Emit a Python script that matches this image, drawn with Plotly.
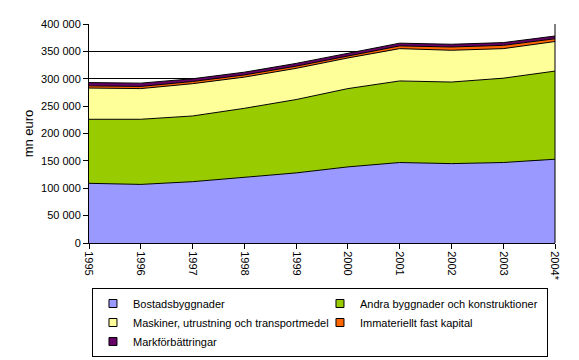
import plotly.graph_objects as go

years = [1995, 1996, 1997, 1998, 1999, 2000, 2001, 2002, 2003, 2004]
year_labels = ["1995", "1996", "1997", "1998", "1999", "2000", "2001", "2002", "2003", "2004*"]

bostads = [109000, 107000, 112000, 120000, 128000, 139000, 147000, 145000, 147000, 153000]
andra = [117000, 119000, 120000, 126000, 134000, 143000, 149000, 149000, 154000, 161000]
maskiner = [57000, 56000, 59000, 57000, 57000, 56000, 59000, 58000, 54000, 54000]
immateriellt = [4000, 4000, 4000, 4000, 4000, 4000, 5000, 6000, 6000, 5000]
mark = [6000, 6000, 5000, 5000, 5000, 5000, 5000, 5000, 5000, 5000]

series = [
    ("Bostadsbyggnader", bostads, "#9999FF"),
    ("Andra byggnader och konstruktioner", andra, "#99CC00"),
    ("Maskiner, utrustning och transportmedel", maskiner, "#FFFF99"),
    ("Immateriellt fast kapital", immateriellt, "#FF6600"),
    ("Markförbättringar", mark, "#660066"),
]

fig = go.Figure()
for name, vals, col in series:
    fig.add_trace(go.Scatter(
        x=years, y=vals, name=name, mode="lines", stackgroup="one",
        line=dict(color="black", width=1), fillcolor=col, showlegend=False,
    ))
# legend entries with square swatches
for name, vals, col in series:
    fig.add_trace(go.Scatter(
        x=[None], y=[None], name=name, mode="markers",
        marker=dict(symbol="square", size=8, color=col, line=dict(color="black", width=1)),
    ))

font = "Liberation Sans, Arial, sans-serif"
fig.update_layout(
    width=579, height=360,
    margin=dict(l=89, r=24, t=24, b=117, autoexpand=False),
    paper_bgcolor="white", plot_bgcolor="white",
    font=dict(family=font, size=11, color="black"),
    showlegend=True,
    xaxis=dict(
        range=[1995, 2004], tickvals=years, ticktext=year_labels, tickangle=90,
        showgrid=False, showline=True, linecolor="black", linewidth=1,
        ticks="outside", ticklen=5, tickcolor="black", mirror=False, zeroline=False,
        tickfont=dict(family=font, size=11), automargin=False,
    ),
    yaxis=dict(
        range=[0, 400000], tickvals=list(range(0, 400001, 50000)),
        ticktext=["0"] + [f"{v//1000} 000" for v in range(50000, 400001, 50000)],
        showgrid=True, gridcolor="black", gridwidth=1,
        showline=True, linecolor="black", linewidth=1,
        ticks="outside", ticklen=5, tickcolor="black", zeroline=False,
        title=dict(text="mn euro", font=dict(family=font, size=13), standoff=4),
        tickfont=dict(family=font, size=11), automargin=False,
    ),
    legend=dict(
        orientation="h",
        x=0.0064, y=-0.2055, xanchor="left", yanchor="top",
        bordercolor="black", borderwidth=1, bgcolor="white",
        entrywidth=182, entrywidthmode="pixels", traceorder="normal",
        font=dict(family=font, size=11), itemwidth=30,
    ),
)
fig.add_shape(type="line", xref="paper", yref="paper", x0=1, x1=1, y0=0, y1=1,
              line=dict(color="black", width=1))

fig.write_html("out.html", post_script="document.body.style.margin='0';",
               config={"displayModeBar": False})
